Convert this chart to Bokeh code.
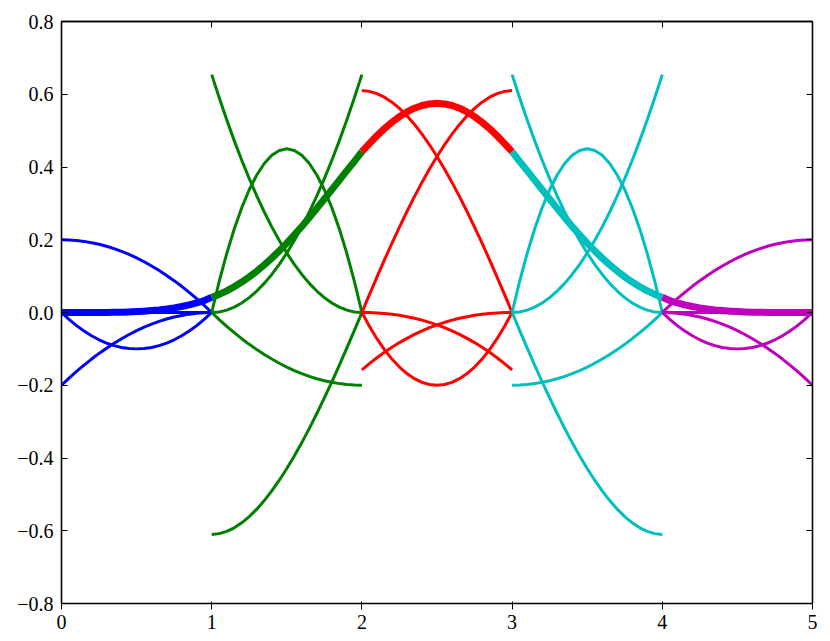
from bokeh.plotting import figure
from bokeh.models import Range1d, FixedTicker, LinearAxis, CustomJSTickFormatter
from bokeh.embed import file_html
from bokeh.resources import INLINE

# sample positions inside each unit interval
t_grid = [0.0, 0.05, 0.1, 0.15, 0.2, 0.25, 0.3, 0.35, 0.4, 0.45, 0.5,
          0.55, 0.6, 0.65, 0.7, 0.75, 0.8, 0.85, 0.9, 0.95, 1.0]

# interval [0,1] (blue)
blue_1 = [0.2, 0.1995, 0.198, 0.1955, 0.192, 0.1875, 0.182, 0.1755, 0.168, 0.1595, 0.15,
          0.1395, 0.128, 0.1155, 0.102, 0.0875, 0.072, 0.0555, 0.038, 0.0195, 0.0]
blue_2 = [-0.2, -0.1805, -0.162, -0.1445, -0.128, -0.1125, -0.098, -0.0845, -0.072, -0.0605, -0.05,
          -0.0405, -0.032, -0.0245, -0.018, -0.0125, -0.008, -0.0045, -0.002, -0.0005, 0.0]
blue_3 = [0.0, -0.019, -0.036, -0.051, -0.064, -0.075, -0.084, -0.091, -0.096, -0.099, -0.1,
          -0.099, -0.096, -0.091, -0.084, -0.075, -0.064, -0.051, -0.036, -0.019, 0.0]
blue_4 = [0.0] * 21
bold_0 = [0.0, 0.0, 0.0, 0.00002, 0.00006, 0.00016, 0.00032, 0.0006, 0.001, 0.0016, 0.0025,
          0.0037, 0.0052, 0.0071, 0.0096, 0.0127, 0.0164, 0.0209, 0.0262, 0.0326, 0.042]

# interval [1,2] (green)
green_1 = [0.654, 0.5902, 0.5297, 0.4725, 0.4186, 0.3679, 0.3205, 0.2763, 0.2354, 0.1978, 0.1635,
           0.1324, 0.1046, 0.0801, 0.0589, 0.0409, 0.0262, 0.0147, 0.0065, 0.0016, 0.0]
green_2 = [0.0, 0.0016, 0.0065, 0.0147, 0.0262, 0.0409, 0.0589, 0.0801, 0.1046, 0.1324, 0.1635,
           0.1978, 0.2354, 0.2763, 0.3205, 0.3679, 0.4186, 0.4725, 0.5297, 0.5902, 0.654]
green_3 = [0.0, 0.0855, 0.162, 0.2295, 0.288, 0.3375, 0.378, 0.4095, 0.432, 0.4455, 0.45,
           0.4455, 0.432, 0.4095, 0.378, 0.3375, 0.288, 0.2295, 0.162, 0.0855, 0.0]
green_4 = [0.0, -0.0195, -0.038, -0.0555, -0.072, -0.0875, -0.102, -0.1155, -0.128, -0.1395, -0.15,
           -0.1595, -0.168, -0.1755, -0.182, -0.1875, -0.192, -0.1955, -0.198, -0.1995, -0.2]
green_5 = [-0.61, -0.6079, -0.6018, -0.5919, -0.5783, -0.5612, -0.5407, -0.5171, -0.4905, -0.4611, -0.429,
           -0.3944, -0.3576, -0.3186, -0.2776, -0.2348, -0.1904, -0.1446, -0.0974, -0.0492, 0.0]
bold_1 = [0.042, 0.0496, 0.0595, 0.0709, 0.0836, 0.0979, 0.1136, 0.1309, 0.1495, 0.1694, 0.1906,
          0.2131, 0.2366, 0.2611, 0.2863, 0.312, 0.338, 0.3641, 0.3901, 0.4155, 0.442]

# interval [2,3] (red)
red_1 = [0.61, 0.6079, 0.6018, 0.5919, 0.5783, 0.5612, 0.5407, 0.5171, 0.4905, 0.4611, 0.429,
         0.3944, 0.3576, 0.3186, 0.2776, 0.2348, 0.1904, 0.1446, 0.0974, 0.0492, 0.0]
red_2 = [0.0, 0.0492, 0.0974, 0.1446, 0.1904, 0.2348, 0.2776, 0.3186, 0.3576, 0.3944, 0.429,
         0.4611, 0.4905, 0.5171, 0.5407, 0.5612, 0.5783, 0.5919, 0.6018, 0.6079, 0.61]
red_3 = [0.0, -0.0003, -0.0012, -0.0027, -0.0049, -0.0078, -0.0115, -0.0159, -0.021, -0.0271, -0.034,
         -0.0418, -0.0505, -0.0602, -0.071, -0.0827, -0.0955, -0.1094, -0.1244, -0.1406, -0.158]
red_4 = [-0.158, -0.1406, -0.1244, -0.1094, -0.0955, -0.0827, -0.071, -0.0602, -0.0505, -0.0418, -0.034,
         -0.0271, -0.021, -0.0159, -0.0115, -0.0078, -0.0049, -0.0027, -0.0012, -0.0003, 0.0]
red_5 = [0.0, -0.038, -0.072, -0.102, -0.128, -0.15, -0.168, -0.182, -0.192, -0.198, -0.2,
         -0.198, -0.192, -0.182, -0.168, -0.15, -0.128, -0.102, -0.072, -0.038, 0.0]
bold_2 = [0.442, 0.4643, 0.4858, 0.5055, 0.5231, 0.5385, 0.5514, 0.5616, 0.569, 0.5735, 0.575,
          0.5735, 0.569, 0.5616, 0.5514, 0.5385, 0.5231, 0.5055, 0.4858, 0.4643, 0.442]

# interval [3,4] (cyan)
cyan_1 = [0.654, 0.5902, 0.5297, 0.4725, 0.4186, 0.3679, 0.3205, 0.2763, 0.2354, 0.1978, 0.1635,
          0.1324, 0.1046, 0.0801, 0.0589, 0.0409, 0.0262, 0.0147, 0.0065, 0.0016, 0.0]
cyan_2 = [0.0, 0.0016, 0.0065, 0.0147, 0.0262, 0.0409, 0.0589, 0.0801, 0.1046, 0.1324, 0.1635,
          0.1978, 0.2354, 0.2763, 0.3205, 0.3679, 0.4186, 0.4725, 0.5297, 0.5902, 0.654]
cyan_3 = [0.0, 0.0855, 0.162, 0.2295, 0.288, 0.3375, 0.378, 0.4095, 0.432, 0.4455, 0.45,
          0.4455, 0.432, 0.4095, 0.378, 0.3375, 0.288, 0.2295, 0.162, 0.0855, 0.0]
cyan_4 = [-0.2, -0.1995, -0.198, -0.1955, -0.192, -0.1875, -0.182, -0.1755, -0.168, -0.1595, -0.15,
          -0.1395, -0.128, -0.1155, -0.102, -0.0875, -0.072, -0.0555, -0.038, -0.0195, 0.0]
cyan_5 = [0.0, -0.0492, -0.0974, -0.1446, -0.1904, -0.2348, -0.2776, -0.3186, -0.3576, -0.3944, -0.429,
          -0.4611, -0.4905, -0.5171, -0.5407, -0.5612, -0.5783, -0.5919, -0.6018, -0.6079, -0.61]
bold_3 = [0.442, 0.4155, 0.3901, 0.3641, 0.338, 0.312, 0.2863, 0.2611, 0.2366, 0.2131, 0.1906,
          0.1694, 0.1495, 0.1309, 0.1136, 0.0979, 0.0836, 0.0709, 0.0595, 0.0496, 0.042]

# interval [4,5] (magenta)
magenta_1 = [0.0, 0.0195, 0.038, 0.0555, 0.072, 0.0875, 0.102, 0.1155, 0.128, 0.1395, 0.15,
             0.1595, 0.168, 0.1755, 0.182, 0.1875, 0.192, 0.1955, 0.198, 0.1995, 0.2]
magenta_2 = [0.0, -0.0005, -0.002, -0.0045, -0.008, -0.0125, -0.018, -0.0245, -0.032, -0.0405, -0.05,
             -0.0605, -0.072, -0.0845, -0.098, -0.1125, -0.128, -0.1445, -0.162, -0.1805, -0.2]
magenta_3 = [0.0, -0.019, -0.036, -0.051, -0.064, -0.075, -0.084, -0.091, -0.096, -0.099, -0.1,
             -0.099, -0.096, -0.091, -0.084, -0.075, -0.064, -0.051, -0.036, -0.019, 0.0]
magenta_4 = [0.0] * 21
bold_4 = [0.042, 0.0326, 0.0262, 0.0209, 0.0164, 0.0127, 0.0096, 0.0071, 0.0052, 0.0037, 0.0025,
          0.0016, 0.001, 0.0006, 0.00032, 0.00016, 0.00006, 0.00002, 0.0, 0.0, 0.0]

x_ticks = [0, 1, 2, 3, 4, 5]
x_tick_labels = ["0", "1", "2", "3", "4", "5"]
y_ticks = [-0.8, -0.6, -0.4, -0.2, 0.0, 0.2, 0.4, 0.6, 0.8]
y_tick_labels = ["\u22120.8", "\u22120.6", "\u22120.4", "\u22120.2", "0.0", "0.2", "0.4", "0.6", "0.8"]

pieces = [
    (0, "#0000ff", [blue_1, blue_2, blue_3, blue_4], bold_0),
    (1, "#008000", [green_1, green_2, green_3, green_4, green_5], bold_1),
    (2, "#ff0000", [red_1, red_2, red_3, red_4, red_5], bold_2),
    (3, "#00bfbf", [cyan_1, cyan_2, cyan_3, cyan_4, cyan_5], bold_3),
    (4, "#bf00bf", [magenta_1, magenta_2, magenta_3, magenta_4], bold_4),
]

LABEL_FONT = "Liberation Serif"

p = figure(width=822, height=633, x_range=Range1d(0, 5), y_range=Range1d(-0.8, 0.8),
           output_backend="svg", toolbar_location=None,
           min_border_left=61, min_border_top=21, min_border_right=10, min_border_bottom=30)
p.grid.visible = False
p.background_fill_color = "white"
p.border_fill_color = "white"
p.outline_line_color = "black"
p.outline_line_width = 1.3

for start, color, thin, bold in pieces:
    xs = [start + t for t in t_grid]
    for ys in thin:
        p.line(xs, ys, line_color=color, line_width=3, line_join="round")
    p.line(xs, bold, line_color=color, line_width=7, line_join="round")

def fmt(tick_values, tick_texts):
    return CustomJSTickFormatter(args=dict(tv=tick_values, tl=tick_texts), code="""
        for (let i = 0; i < tv.length; i++) {
            if (Math.abs(tv[i] - tick) < 1e-9) { return tl[i]; }
        }
        return '';
    """)

for ax, tv, tl, so in [(p.xaxis[0], x_ticks, x_tick_labels, 5), (p.yaxis[0], y_ticks, y_tick_labels, 8)]:
    ax.ticker = FixedTicker(ticks=tv)
    ax.formatter = fmt(tv, tl)
    ax.major_label_text_font = LABEL_FONT
    ax.major_label_text_font_size = "20px"
    ax.major_label_text_color = "black"
    ax.major_label_standoff = so

top = LinearAxis(ticker=FixedTicker(ticks=x_ticks), formatter=CustomJSTickFormatter(code="return '';"),
                 major_label_standoff=0, major_label_text_font_size="0px")
right = LinearAxis(ticker=FixedTicker(ticks=y_ticks), formatter=CustomJSTickFormatter(code="return '';"),
                   major_label_standoff=0, major_label_text_font_size="0px")
p.add_layout(top, "above")
p.add_layout(right, "right")

for ax in [p.xaxis[0], p.yaxis[0], top, right]:
    ax.major_tick_in = 6
    ax.major_tick_out = 0
    ax.minor_tick_line_color = None
    ax.major_tick_line_color = "black"
    ax.major_tick_line_width = 1
    ax.axis_line_color = "black"
    ax.axis_line_width = 1.3

open("out.html", "w").write(file_html(p, INLINE))
